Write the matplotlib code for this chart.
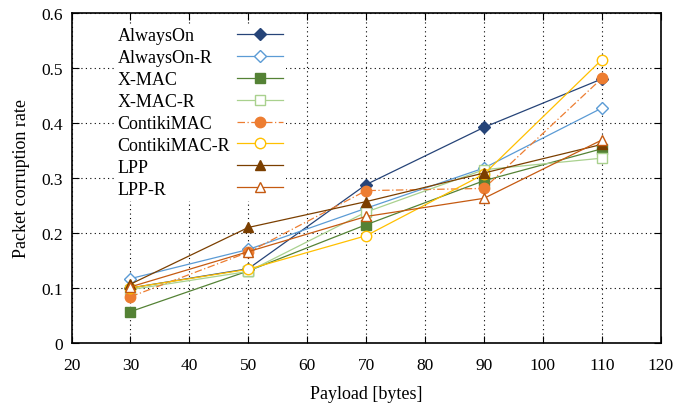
import matplotlib
matplotlib.use('agg')
import matplotlib.pyplot as plt

########################################################################
# data ------------------------------------------------------------------
########################################################################
payload = [30, 50, 70, 90, 110]

always_on   = [0.100, 0.135, 0.288, 0.392, 0.480]
always_on_r = [0.117, 0.170, 0.245, 0.318, 0.427]
xmac        = [0.057, 0.131, 0.215, 0.295, 0.353]
xmac_r      = [0.097, 0.130, 0.238, 0.315, 0.336]
contiki     = [0.084, 0.165, 0.277, 0.281, 0.481]
contiki_r   = [0.100, 0.134, 0.195, 0.307, 0.515]
lpp         = [0.107, 0.210, 0.257, 0.309, 0.361]
lpp_r       = [0.102, 0.166, 0.230, 0.263, 0.369]

labels = ['AlwaysOn', 'AlwaysOn-R', 'X-MAC', 'X-MAC-R',
          'ContikiMAC', 'ContikiMAC-R', 'LPP', 'LPP-R']
series = [always_on, always_on_r, xmac, xmac_r,
          contiki, contiki_r, lpp, lpp_r]

xticks = [20, 30, 40, 50, 60, 70, 80, 90, 100, 110, 120]
yticks = [0, 0.1, 0.2, 0.3, 0.4, 0.5, 0.6]

# style per series: color, marker, filled, linestyle
styles = [('#264478', 'D', True,  '-'),
          ('#5B9BD5', 'D', False, '-'),
          ('#548235', 's', True,  '-'),
          ('#A9D18E', 's', False, '-'),
          ('#ED7D31', 'o', True,  (0, (6, 2, 1, 2))),
          ('#FFC000', 'o', False, '-'),
          ('#7B3F00', '^', True,  '-'),
          ('#C55A11', '^', False, '-')]

########################################################################
# plot ------------------------------------------------------------------
########################################################################
plt.rcParams['font.family'] = ['Liberation Serif', 'DejaVu Serif']
plt.rcParams['font.size'] = 12.5

fig = plt.figure(figsize=(6.78, 4.10), dpi=100)
ax = fig.add_axes([0.1055, 0.161, 0.869, 0.805])

for lab, ys, (c, m, filled, ls) in zip(labels, series, styles):
    ms = 7.5 if m == 'o' else (6.5 if m == 'D' else 7)
    ax.plot(payload, ys, color=c, linestyle=ls, linewidth=0.9,
            marker=m, markersize=ms,
            markerfacecolor=c if filled else 'white',
            markeredgecolor=c, markeredgewidth=1.0, label=lab)

ax.set_xlim(20, 120)
ax.set_ylim(0, 0.6)
ax.set_xticks(xticks)
ax.set_yticks(yticks)
ax.set_yticklabels(['0', '0.1', '0.2', '0.3', '0.4', '0.5', '0.6'])
ax.tick_params(direction='in', top=True, right=True, length=5, width=0.8,
               labelsize=12.5)
ax.tick_params(axis='x', pad=10)
ax.tick_params(axis='y', pad=6.5)
ax.grid(True, color='black', linestyle=(0, (1, 3)), linewidth=0.8)
ax.set_axisbelow(True)
for sp in ax.spines.values():
    sp.set_linewidth(1.2)

ax.set_xlabel('Payload [bytes]', fontsize=13, labelpad=9)
ax.set_ylabel('Packet corruption rate', fontsize=13, labelpad=8)

leg = ax.legend(loc='upper left', bbox_to_anchor=(0.072, 0.967),
                markerfirst=False, frameon=True, fancybox=False,
                framealpha=1, edgecolor='none', facecolor='white',
                handlelength=2.5, labelspacing=0.27, borderpad=0.2,
                handletextpad=0.4, fontsize=13, borderaxespad=0)

# left-align the labels: widen the gap between short labels and their handle
fig.canvas.draw()
rend = fig.canvas.get_renderer()
col = leg._legend_handle_box.get_children()[0]
rows = col.get_children()
widths = [t.get_window_extent(rend).width for t in leg.get_texts()]
wmax = max(widths)
dpi_scale = fig.dpi / 72.0
for row, w in zip(rows, widths):
    row.sep = row.sep + (wmax - w) / dpi_scale

fig.savefig('out.png', dpi=100)
